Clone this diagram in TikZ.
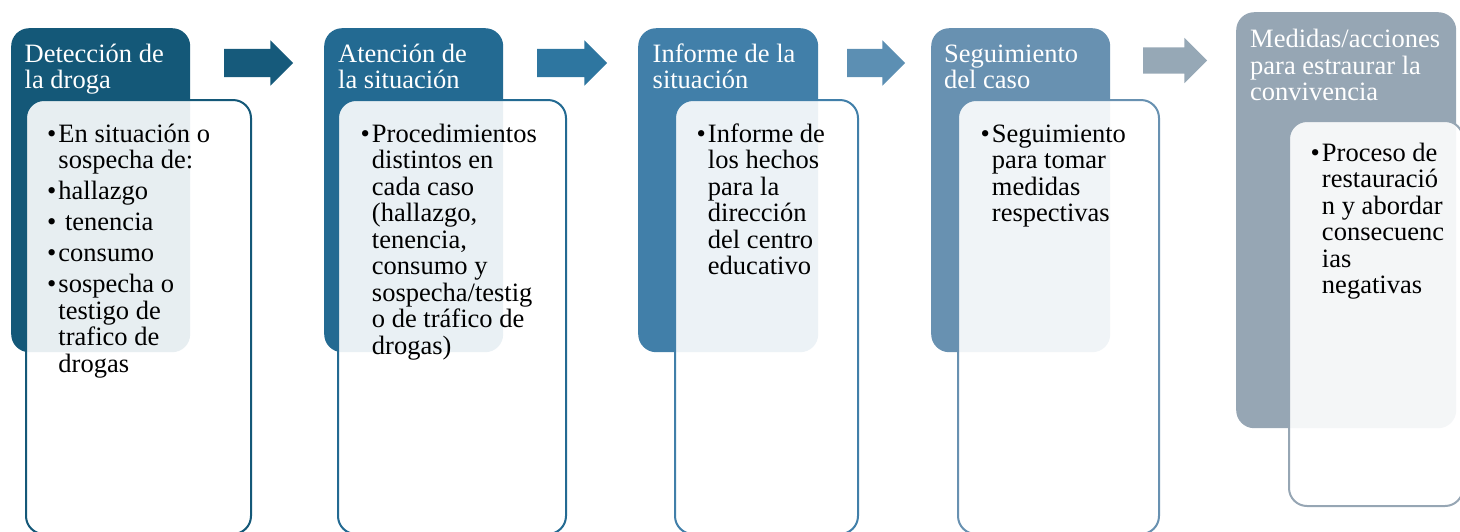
\documentclass[tikz,border=0pt]{standalone}
\usepackage{fontspec}
\setmainfont{Liberation Serif}
\usetikzlibrary{shapes.arrows}

\definecolor{pasoA}{RGB}{20,88,120}
\definecolor{pasoB}{RGB}{35,106,146}
\definecolor{pasoC}{RGB}{65,127,169}
\definecolor{pasoD}{RGB}{104,145,177}
\definecolor{pasoE}{RGB}{150,166,180}
\definecolor{flechaA}{RGB}{22,90,123}
\definecolor{flechaB}{RGB}{46,118,160}
\definecolor{flechaC}{RGB}{92,143,179}
\definecolor{flechaD}{RGB}{150,168,182}

\tikzset{
  hdr/.style={rounded corners=18pt, anchor=north west, inner sep=0pt},
  inbox/.style={draw, line width=2pt, fill=white, fill opacity=0.9, draw opacity=1,
                rounded corners=18pt, anchor=north west, inner sep=0pt},
  hdrtxt/.style={anchor=north west, inner sep=0pt, text=white,
                 font=\fontsize{26.5}{26.5}\selectfont},
  bodytxt/.style={anchor=north west, inner sep=0pt, text=black,
                  font=\fontsize{26.5}{26.5}\selectfont},
  flecha/.style={single arrow, single arrow head extend=8.5pt, inner xsep=0pt,
                 inner ysep=14pt}
}

\begin{document}
\begin{tikzpicture}[x=1pt, y=-1pt]
        \useasboundingbox (0,0) rectangle (1460,531);

        % cabeceras
        \node[hdr, fill=pasoA, minimum width=179pt, minimum height=324pt] at (11,28) (h1) {};
        \node[hdr, fill=pasoB, minimum width=179pt, minimum height=324pt] at (324,28) (h2) {};
        \node[hdr, fill=pasoC, minimum width=180pt, minimum height=324pt] at (638,28) (h3) {};
        \node[hdr, fill=pasoD, minimum width=179pt, minimum height=324pt] at (931,28) (h4) {};
        \node[hdr, fill=pasoE, minimum width=220pt, minimum height=416pt] at (1236,12) (h5) {};

        \node[hdrtxt] at (24.5,43.5) (t1) {\begin{tabular}{@{}l@{}}Detección de\\la droga\end{tabular}};
        \node[hdrtxt] at (338,43.5) (t2) {\begin{tabular}{@{}l@{}}Atención de\\la situación\end{tabular}};
        \node[hdrtxt] at (652.5,43.5) (t3) {\begin{tabular}{@{}l@{}}Informe de la\\situación\end{tabular}};
        \node[hdrtxt] at (944,43.5) (t4) {\begin{tabular}{@{}l@{}}Seguimiento\\del caso\end{tabular}};
        \node[hdrtxt] at (1250,29) (t5) {\begin{tabular}{@{}l@{}}Medidas/acciones\\para estraurar la\\convivencia\end{tabular}};

        % cajas de contenido
        \node[inbox, draw=pasoA, minimum width=225pt, minimum height=434pt] at (25,99) (c1) {};
        \node[inbox, draw=pasoB, minimum width=228pt, minimum height=434pt] at (337,99) (c2) {};
        \node[inbox, draw=pasoC, minimum width=183pt, minimum height=434pt] at (674,99) (c3) {};
        \node[inbox, draw=pasoD, minimum width=201pt, minimum height=434pt] at (957,99) (c4) {};
        \node[inbox, draw=pasoE, minimum width=174pt, minimum height=385pt] at (1288,120) (c5) {};

        \node[bodytxt] at (47,123.5) (b1) {\begin{tabular}{@{}l@{\hspace{2pt}}l@{}}
            \textbullet & En situación o\\
                        & sospecha de:\\[4.5pt]
            \textbullet & hallazgo\\[4.5pt]
            \textbullet & \ tenencia\\[4.5pt]
            \textbullet & consumo\\[4.5pt]
            \textbullet & sospecha o\\
                        & testigo de\\
                        & trafico de\\
                        & drogas
          \end{tabular}};
        \node[bodytxt] at (360.5,123.5) (b2) {\begin{tabular}{@{}l@{\hspace{2pt}}l@{}}
            \textbullet & Procedimientos\\
                        & distintos en\\
                        & cada caso\\
                        & (hallazgo,\\
                        & tenencia,\\
                        & consumo y\\
                        & sospecha/testig\\
                        & o de tráfico de\\
                        & drogas)
          \end{tabular}};
        \node[bodytxt] at (696.5,123.5) (b3) {\begin{tabular}{@{}l@{\hspace{2pt}}l@{}}
            \textbullet & Informe de\\
                        & los hechos\\
                        & para la\\
                        & dirección\\
                        & del centro\\
                        & educativo
          \end{tabular}};
        \node[bodytxt] at (980.5,123.5) (b4) {\begin{tabular}{@{}l@{\hspace{2pt}}l@{}}
            \textbullet & Seguimiento\\
                        & para tomar\\
                        & medidas\\
                        & respectivas
          \end{tabular}};
        \node[bodytxt] at (1310.5,142.5) (b5) {\begin{tabular}{@{}l@{\hspace{2pt}}l@{}}
            \textbullet & Proceso de\\
                        & restauració\\
                        & n y abordar\\
                        & consecuenc\\
                        & ias\\
                        & negativas
          \end{tabular}};

        % flechas
        \node[flecha, fill=flechaA, minimum height=69pt] at (251.5,63) (f1) {};
        \node[flecha, fill=flechaB, minimum height=70pt] at (565,63) (f2) {};
        \node[flecha, fill=flechaC, minimum height=58pt] at (869,63) (f3) {};
        \node[flecha, fill=flechaD, minimum height=64pt, inner ysep=13pt,
              single arrow head extend=9.5pt] at (1168.5,60.5) (f4) {};
    \end{tikzpicture}
\end{document}
